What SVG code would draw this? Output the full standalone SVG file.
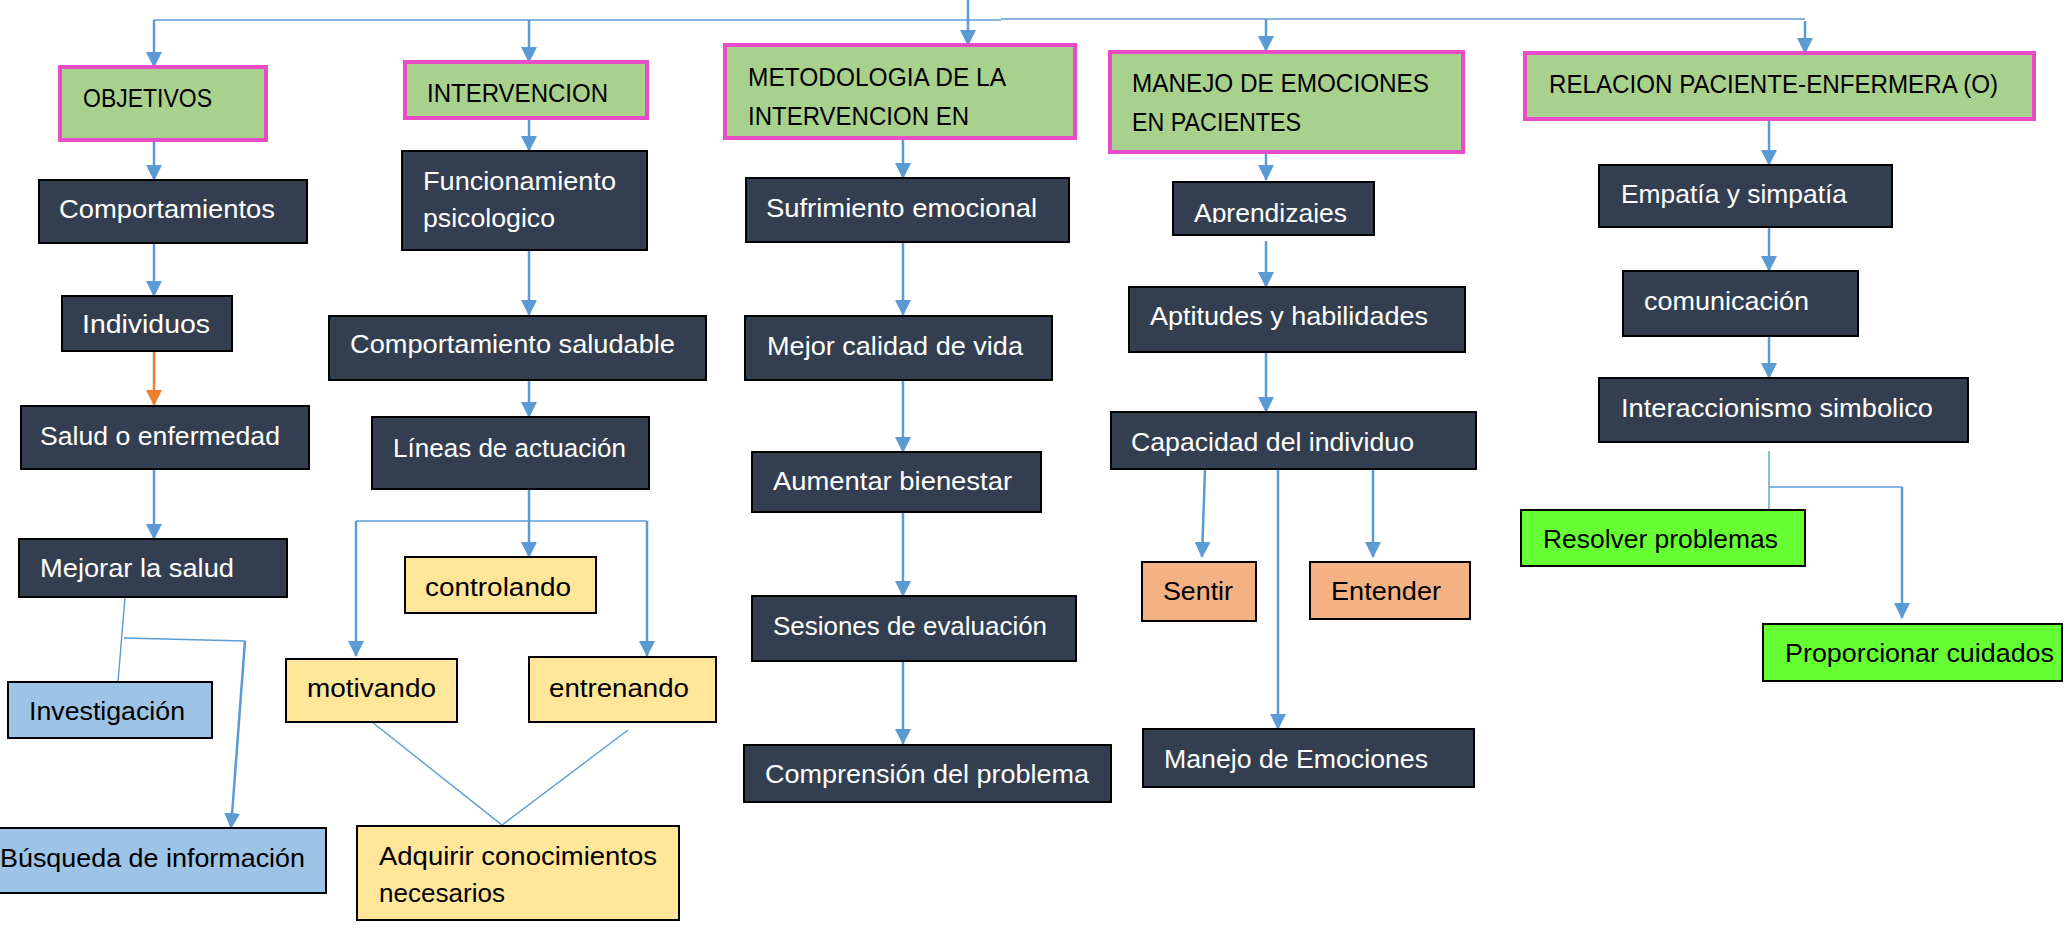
<svg xmlns="http://www.w3.org/2000/svg" width="2070" height="932" viewBox="0 0 2070 932">
<style>
.dk{fill:#333f50;stroke:#000;stroke-width:2}
.hd{fill:#a9d18e;stroke:#e84cc6;stroke-width:4}
.yl{fill:#ffe699;stroke:#000;stroke-width:2}
.lb{fill:#9dc3e6;stroke:#000;stroke-width:2}
.or{fill:#f4b183;stroke:#000;stroke-width:2}
.gr{fill:#66ff33;stroke:#000;stroke-width:2}
text{font-family:"Liberation Sans",Arial,sans-serif;font-size:26px;fill:#000}
.w{fill:#fff}
.c{fill:none;stroke:#5b9bd5;stroke-width:2.5}
.t{fill:none;stroke:#5b9bd5;stroke-width:1.4}
.a{marker-end:url(#ah)}
</style>
<defs>
<marker id="ah" markerUnits="userSpaceOnUse" markerWidth="16" markerHeight="16" viewBox="0 0 16 16" refX="15" refY="8" orient="auto"><path d="M0,0 L16,8 L0,16 z" fill="#5b9bd5"/></marker>
<marker id="ao" markerUnits="userSpaceOnUse" markerWidth="16" markerHeight="16" viewBox="0 0 16 16" refX="15" refY="8" orient="auto"><path d="M0,0 L16,8 L0,16 z" fill="#ed7d31"/></marker>
<clipPath id="clipAp"><rect x="1173" y="182" width="201" height="41"/></clipPath>
</defs>
<rect width="2070" height="932" fill="#fff"/>

<g id="connectors">
<path class="t" d="M154,20 H1001"/>
<path class="t" d="M1001,19 H1805"/>
<path class="c a" d="M968,0 V45"/>
<path class="c a" d="M154,20 V67"/>
<path class="c a" d="M529,20 V62"/>
<path class="c a" d="M1266,19 V51"/>
<path class="c a" d="M1805,21 V53"/>
<path class="c a" d="M154,140 V180"/>
<path class="c a" d="M154,243 V296"/>
<path d="M154,351 V405" fill="none" stroke="#ed7d31" stroke-width="2.5" marker-end="url(#ao)"/>
<path class="c a" d="M154,469 V539"/>
<path class="t" d="M125,597 L118,682"/>
<path class="t" d="M124,638 L245,641"/>
<path class="c a" d="M245,641 L231,828"/>
<path class="c a" d="M529,118 V151"/>
<path class="c a" d="M529,250 V315"/>
<path class="c a" d="M529,380 V417"/>
<path class="c a" d="M529,489 V557"/>
<path class="t" d="M356,521 H647"/>
<path class="c a" d="M356,521 V656"/>
<path class="c a" d="M647,521 V656"/>
<path class="t" d="M372,722 L502,825 L628,730"/>
<path class="c a" d="M903,138 V178"/>
<path class="c a" d="M903,242 V315"/>
<path class="c a" d="M903,380 V452"/>
<path class="c a" d="M903,512 V596"/>
<path class="c a" d="M903,661 V744"/>
<path class="c a" d="M1266,152 V180"/>
<path class="c a" d="M1266,241 V287"/>
<path class="c a" d="M1266,352 V412"/>
<path class="c a" d="M1205,469 L1202,557"/>
<path class="c a" d="M1278,469 V729"/>
<path class="c a" d="M1373,469 V557"/>
<path class="c a" d="M1769,119 V165"/>
<path class="c a" d="M1769,227 V271"/>
<path class="c a" d="M1769,336 V378"/>
<path class="t" d="M1769,451 V510"/>
<path class="t" d="M1769,487 H1902"/>
<path class="c a" d="M1902,487 V618"/>
</g>

<g id="objetivos"><rect class="hd" x="60" y="67" width="206" height="73"/><text x="83" y="107" textLength="129" lengthAdjust="spacingAndGlyphs">OBJETIVOS</text></g>
<g id="intervencion"><rect class="hd" x="405" y="62" width="242" height="56"/><text x="427" y="102" textLength="181" lengthAdjust="spacingAndGlyphs">INTERVENCION</text></g>
<g id="metodologia"><rect class="hd" x="725" y="45" width="350" height="93"/><text x="748" y="86" textLength="258" lengthAdjust="spacingAndGlyphs">METODOLOGIA DE LA</text><text x="748" y="125" textLength="221" lengthAdjust="spacingAndGlyphs">INTERVENCION EN</text></g>
<g id="manejo-head"><rect class="hd" x="1110" y="52" width="353" height="100"/><text x="1132" y="92" textLength="297" lengthAdjust="spacingAndGlyphs">MANEJO DE EMOCIONES</text><text x="1132" y="131" textLength="169" lengthAdjust="spacingAndGlyphs">EN PACIENTES</text></g>
<g id="relacion"><rect class="hd" x="1525" y="53" width="509" height="66"/><text x="1549" y="93" textLength="449" lengthAdjust="spacingAndGlyphs">RELACION PACIENTE-ENFERMERA (O)</text></g>

<g id="comportamientos"><rect class="dk" x="39" y="180" width="268" height="63"/><text class="w" x="59" y="218" textLength="216" lengthAdjust="spacingAndGlyphs">Comportamientos</text></g>
<g id="individuos"><rect class="dk" x="62" y="296" width="170" height="55"/><text class="w" x="82" y="333" textLength="128" lengthAdjust="spacingAndGlyphs">Individuos</text></g>
<g id="salud"><rect class="dk" x="21" y="406" width="288" height="63"/><text class="w" x="40" y="445" textLength="240" lengthAdjust="spacingAndGlyphs">Salud o enfermedad</text></g>
<g id="mejorar"><rect class="dk" x="19" y="539" width="268" height="58"/><text class="w" x="40" y="577" textLength="194" lengthAdjust="spacingAndGlyphs">Mejorar la salud</text></g>
<g id="investigacion"><rect class="lb" x="8" y="682" width="204" height="56"/><text x="29" y="720" textLength="156" lengthAdjust="spacingAndGlyphs">Investigación</text></g>
<g id="busqueda"><rect class="lb" x="-2" y="828" width="328" height="65"/><text x="0" y="867" textLength="305" lengthAdjust="spacingAndGlyphs">Búsqueda de información</text></g>

<g id="funcionamiento"><rect class="dk" x="402" y="151" width="245" height="99"/><text class="w" x="423" y="190" textLength="193" lengthAdjust="spacingAndGlyphs">Funcionamiento</text><text class="w" x="423" y="227" textLength="132" lengthAdjust="spacingAndGlyphs">psicologico</text></g>
<g id="comp-saludable"><rect class="dk" x="329" y="316" width="377" height="64"/><text class="w" x="350" y="353" textLength="325" lengthAdjust="spacingAndGlyphs">Comportamiento saludable</text></g>
<g id="lineas"><rect class="dk" x="372" y="417" width="277" height="72"/><text class="w" x="393" y="457" textLength="233" lengthAdjust="spacingAndGlyphs">Líneas de actuación</text></g>
<g id="controlando"><rect class="yl" x="405" y="557" width="191" height="56"/><text x="425" y="596" textLength="146" lengthAdjust="spacingAndGlyphs">controlando</text></g>
<g id="motivando"><rect class="yl" x="286" y="659" width="171" height="63"/><text x="307" y="697" textLength="129" lengthAdjust="spacingAndGlyphs">motivando</text></g>
<g id="entrenando"><rect class="yl" x="529" y="657" width="187" height="65"/><text x="549" y="697" textLength="140" lengthAdjust="spacingAndGlyphs">entrenando</text></g>
<g id="adquirir"><rect class="yl" x="357" y="826" width="322" height="94"/><text x="379" y="865" textLength="278" lengthAdjust="spacingAndGlyphs">Adquirir conocimientos</text><text x="379" y="902" textLength="126" lengthAdjust="spacingAndGlyphs">necesarios</text></g>

<g id="sufrimiento"><rect class="dk" x="746" y="178" width="323" height="64"/><text class="w" x="766" y="217" textLength="271" lengthAdjust="spacingAndGlyphs">Sufrimiento emocional</text></g>
<g id="mejor-calidad"><rect class="dk" x="745" y="316" width="307" height="64"/><text class="w" x="767" y="355" textLength="256" lengthAdjust="spacingAndGlyphs">Mejor calidad de vida</text></g>
<g id="aumentar"><rect class="dk" x="752" y="452" width="289" height="60"/><text class="w" x="773" y="490" textLength="239" lengthAdjust="spacingAndGlyphs">Aumentar bienestar</text></g>
<g id="sesiones"><rect class="dk" x="752" y="596" width="324" height="65"/><text class="w" x="773" y="635" textLength="274" lengthAdjust="spacingAndGlyphs">Sesiones de evaluación</text></g>
<g id="comprension"><rect class="dk" x="744" y="745" width="367" height="57"/><text class="w" x="765" y="783" textLength="324" lengthAdjust="spacingAndGlyphs">Comprensión del problema</text></g>

<g id="aprendizajes"><rect class="dk" x="1173" y="182" width="201" height="53"/><text class="w" x="1194" y="222" textLength="153" lengthAdjust="spacingAndGlyphs" clip-path="url(#clipAp)">Aprendizajes</text></g>
<g id="aptitudes"><rect class="dk" x="1129" y="287" width="336" height="65"/><text class="w" x="1150" y="325" textLength="278" lengthAdjust="spacingAndGlyphs">Aptitudes y habilidades</text></g>
<g id="capacidad"><rect class="dk" x="1111" y="412" width="365" height="57"/><text class="w" x="1131" y="451" textLength="283" lengthAdjust="spacingAndGlyphs">Capacidad del individuo</text></g>
<g id="sentir"><rect class="or" x="1142" y="562" width="114" height="59"/><text x="1163" y="600" textLength="70" lengthAdjust="spacingAndGlyphs">Sentir</text></g>
<g id="entender"><rect class="or" x="1310" y="562" width="160" height="57"/><text x="1331" y="600" textLength="110" lengthAdjust="spacingAndGlyphs">Entender</text></g>
<g id="manejo-emociones"><rect class="dk" x="1143" y="729" width="331" height="58"/><text class="w" x="1164" y="768" textLength="264" lengthAdjust="spacingAndGlyphs">Manejo de Emociones</text></g>

<g id="empatia"><rect class="dk" x="1599" y="165" width="293" height="62"/><text class="w" x="1621" y="203" textLength="226" lengthAdjust="spacingAndGlyphs">Empatía y simpatía</text></g>
<g id="comunicacion"><rect class="dk" x="1623" y="271" width="235" height="65"/><text class="w" x="1644" y="310" textLength="165" lengthAdjust="spacingAndGlyphs">comunicación</text></g>
<g id="interaccionismo"><rect class="dk" x="1599" y="378" width="369" height="64"/><text class="w" x="1621" y="417" textLength="312" lengthAdjust="spacingAndGlyphs">Interaccionismo simbolico</text></g>
<g id="resolver"><rect class="gr" x="1521" y="510" width="284" height="56"/><text x="1543" y="548" textLength="235" lengthAdjust="spacingAndGlyphs">Resolver problemas</text></g>
<g id="proporcionar"><rect class="gr" x="1763" y="624" width="299" height="57"/><text x="1785" y="662" textLength="269" lengthAdjust="spacingAndGlyphs">Proporcionar cuidados</text></g>
</svg>
